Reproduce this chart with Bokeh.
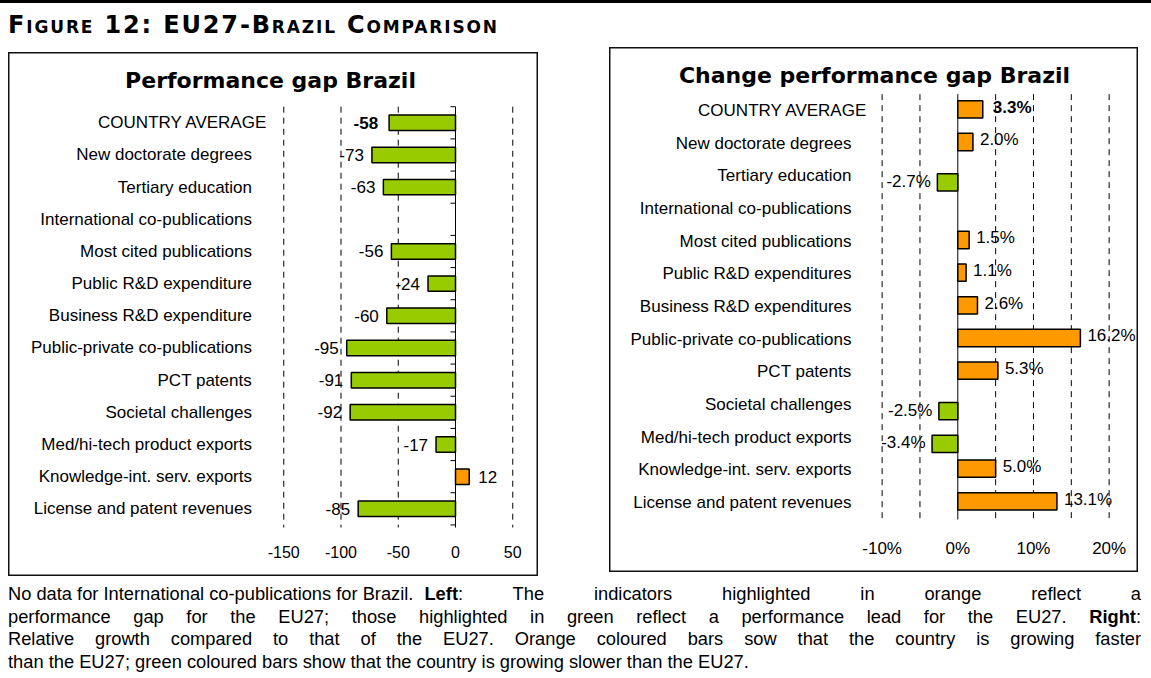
from bokeh.plotting import figure
from bokeh.models import Range1d, ColumnDataSource, Div, Spacer
from bokeh.layouts import column, row
from bokeh.embed import file_html
from bokeh.resources import INLINE
from bokeh.core.properties import value

# ------------------------------------------------------------------ data
CATEGORIES_LEFT = [
    "COUNTRY AVERAGE", "New doctorate degrees", "Tertiary education",
    "International co-publications", "Most cited publications",
    "Public R&D expenditure", "Business R&D expenditure",
    "Public-private co-publications", "PCT patents", "Societal challenges",
    "Med/hi-tech product exports", "Knowledge-int. serv. exports",
    "License and patent revenues",
]
PERFORMANCE_GAP = [-58, -73, -63, None, -56, -24, -60, -95, -91, -92, -17, 12, -85]

CATEGORIES_RIGHT = [
    "COUNTRY AVERAGE", "New doctorate degrees", "Tertiary education",
    "International co-publications", "Most cited publications",
    "Public R&D expenditures", "Business R&D expenditures",
    "Public-private co-publications", "PCT patents", "Societal challenges",
    "Med/hi-tech product exports", "Knowledge-int. serv. exports",
    "License and patent revenues",
]
CHANGE_GAP = [3.3, 2.0, -2.7, None, 1.5, 1.1, 2.6, 16.2, 5.3, -2.5, -3.4, 5.0, 13.1]

TICKS_LEFT = [-150, -100, -50, 0, 50]
TICK_LABELS_LEFT = ["-150", "-100", "-50", "0", "50"]
GRID_LEFT = [-150, -100, -50, 50]

TICKS_RIGHT = [-10, 0, 10, 20]
TICK_LABELS_RIGHT = ["-10%", "0%", "10%", "20%"]
GRID_RIGHT = [-10, -5, 5, 10, 15, 20]

TITLE_LEFT = "Performance gap Brazil"
TITLE_RIGHT = "Change performance gap Brazil"
FIGURE_TITLE = "Figure 12: EU27-Brazil Comparison"
CAPTION_NOTE = "No data for International co-publications for Brazil."
CAPTION_LINES = [
    "<b>Left</b>: The indicators highlighted in orange reflect a",
    "performance gap for the EU27; those highlighted in green reflect a performance lead for the EU27. <b>Right</b>:",
    "Relative growth compared to that of the EU27. Orange coloured bars sow that the country is growing faster",
    "than the EU27; green coloured bars show that the country is growing slower than the EU27.",
]

GREEN = "#99CC00"
ORANGE = "#FF9900"
SANS = value("Liberation Sans")
BOLD_SANS = value("DejaVu Sans")


def build_panel(cfg, cats, vals, fmt, grid_vals, ticks, tick_labels, title):
    W, H = cfg["w"], cfg["h"]
    zx, sx, r0, sy = cfg["zero_px"], cfg["sx"], cfg["row0_px"], cfg["sy"]

    def px2x(px):
        return (px - zx) / sx

    def py2y(py):
        return (py - r0) / sy

    n = len(cats)
    p = figure(width=W, height=H,
               x_range=Range1d(px2x(0), px2x(W)),
               y_range=Range1d(py2y(H), py2y(0)),
               x_axis_location=None, y_axis_location=None,
               output_backend="svg", toolbar_location=None,
               min_border=0, margin=0,
               outline_line_color="#111111", outline_line_width=2,
               background_fill_color="white", border_fill_color="white")
    p.grid.visible = False

    top, bot = -0.5, py2y(cfg["grid_bottom_px"])

    # dashed gridlines
    p.segment(x0=grid_vals, y0=[top] * len(grid_vals), x1=grid_vals,
              y1=[bot] * len(grid_vals), line_color="black", line_width=1,
              line_dash="6 5")
    # zero axis
    p.segment(x0=[0], y0=[top], x1=[0], y1=[bot], line_color="black", line_width=1)
    if cfg["axis_ticks"]:
        b = [i - 0.5 for i in range(n + 1)]
        p.segment(x0=[-5 / sx] * len(b), y0=b, x1=[0] * len(b), y1=b,
                  line_color="black", line_width=1)

    # bars + value labels
    idx = [i for i, v in enumerate(vals) if v is not None]
    vv = [vals[i] for i in idx]
    ys = [i + (cfg["dodge_neg_px"] if vals[i] < 0 else cfg["dodge_pos_px"]) / sy for i in idx]
    src = ColumnDataSource(dict(
        y=ys, v=vv,
        color=[GREEN if v < 0 else ORANGE for v in vv],
        label=[fmt(v) for v in vv],
        align=["right" if v < 0 else "left" for v in vv],
        xoff=[(cfg["neg_off"] if v < 0 else cfg["pos_off"]) + (cfg["avg_val_shift"] if i == 0 else 0)
              for i, v in zip(idx, vv)],
        yoff=[cfg["lab_dy"] if v >= 0 else cfg["lab_dy_neg"] for v in vv],
        fstyle=["bold" if i == 0 else "normal" for i in idx],
    ))
    p.hbar(y="y", left=0, right="v", height=cfg["bar_h"], fill_color="color",
           line_color="black", line_width=1.5, source=src)
    p.text(x="v", y="y", text="label", x_offset="xoff", y_offset="yoff",
           text_align="align", text_baseline="middle", text_font_style="fstyle",
           text_font=SANS, text_font_size="17px", text_color="black", source=src)

    # category labels
    lab = ColumnDataSource(dict(
        y=list(range(n)), text=cats,
        xoff=[cfg["avg_shift"] if i == 0 else 0 for i in range(n)],
    ))
    p.text(x=px2x(cfg["label_px"]), y="y", text="text", x_offset="xoff",
           text_align="right", text_baseline="middle", text_font=SANS,
           text_font_size="17px", text_color="black", source=lab)

    # x tick labels
    p.text(x=ticks, y=[py2y(cfg["tick_py"])] * len(ticks), text=tick_labels,
           text_align="center", text_baseline="middle", text_font=SANS,
           text_font_size=cfg["tick_fs"], text_color="black")

    # panel title
    p.text(x=[px2x(cfg["title_cx"])], y=[py2y(cfg["title_cy"])], text=[title],
           text_align="center", text_baseline="middle", text_font=BOLD_SANS,
           text_font_style="bold", text_font_size="22px", text_color="black")
    return p


left_cfg = dict(w=530, h=524, zero_px=447.0, sx=1.145, row0_px=70.3, sy=32.17,
                grid_bottom_px=475, axis_ticks=True, dodge_neg_px=0, dodge_pos_px=0,
                bar_h=0.48, neg_off=-8, pos_off=9, lab_dy=0, lab_dy_neg=0,
                avg_shift=15.5, avg_val_shift=-3, label_px=243.5, tick_py=499,
                tick_fs="16px", title_cx=262, title_cy=28)
right_cfg = dict(w=529, h=525, zero_px=348.3, sx=7.567, row0_px=63.0, sy=32.67,
                 grid_bottom_px=472, axis_ticks=False, dodge_neg_px=6.6, dodge_pos_px=-1.2,
                 bar_h=0.53, neg_off=-6.5, pos_off=7, lab_dy=-2, lab_dy_neg=-1,
                 avg_shift=16, avg_val_shift=3, label_px=242, tick_py=501,
                 tick_fs="17px", title_cx=265, title_cy=28)

p_left = build_panel(left_cfg, CATEGORIES_LEFT, PERFORMANCE_GAP, lambda v: f"{v:.0f}",
                     GRID_LEFT, TICKS_LEFT, TICK_LABELS_LEFT, TITLE_LEFT)
p_right = build_panel(right_cfg, CATEGORIES_RIGHT, CHANGE_GAP, lambda v: f"{v:.1f}%",
                      GRID_RIGHT, TICKS_RIGHT, TICK_LABELS_RIGHT, TITLE_RIGHT)

header_html = (
    '<div style="position:relative;left:-8px;top:-8px;width:1151px;height:3px;'
    'background:#000;"></div>'
    '<div style="font-family:\'DejaVu Sans\',Verdana,sans-serif;font-weight:bold;'
    'font-variant:small-caps;font-size:24px;letter-spacing:1.85px;line-height:28px;'
    'margin-top:0px;color:#000;white-space:nowrap;">' + FIGURE_TITLE + '</div>'
)
header = Div(text=header_html, width=1130, height=39, margin=0)

JUST = "text-align:justify;text-align-last:justify;"
cap_lines = [
    '<div style="display:flex;align-items:baseline;">'
    f'<span style="white-space:nowrap;">{CAPTION_NOTE}</span>'
    f'<span style="flex:1;margin-left:11px;{JUST}">{CAPTION_LINES[0]}</span></div>'
]
for k, line in enumerate(CAPTION_LINES[1:], start=1):
    last = k == len(CAPTION_LINES) - 1
    al = "text-align:left;" if last else JUST
    cap_lines.append(f'<div style="{al}">{line}</div>')
caption_html = (
    '<div style="font-family:\'Liberation Sans\',Arial,sans-serif;font-size:18.3px;'
    'line-height:22.7px;color:#000;padding-top:7px;width:1133px;">'
    + "".join(cap_lines) + '</div>'
)
caption = Div(text=caption_html, width=1133, height=94, margin=0)

layout = column(
    header,
    row(column(Spacer(width=530, height=5, margin=0), p_left, spacing=0),
        Spacer(width=71, height=10, margin=0), p_right, spacing=0),
    caption,
    spacing=0,
    margin=(8, 0, 0, 8),
)

open("out.html", "w").write(file_html(layout, INLINE, title="EU27-Brazil Comparison"))
